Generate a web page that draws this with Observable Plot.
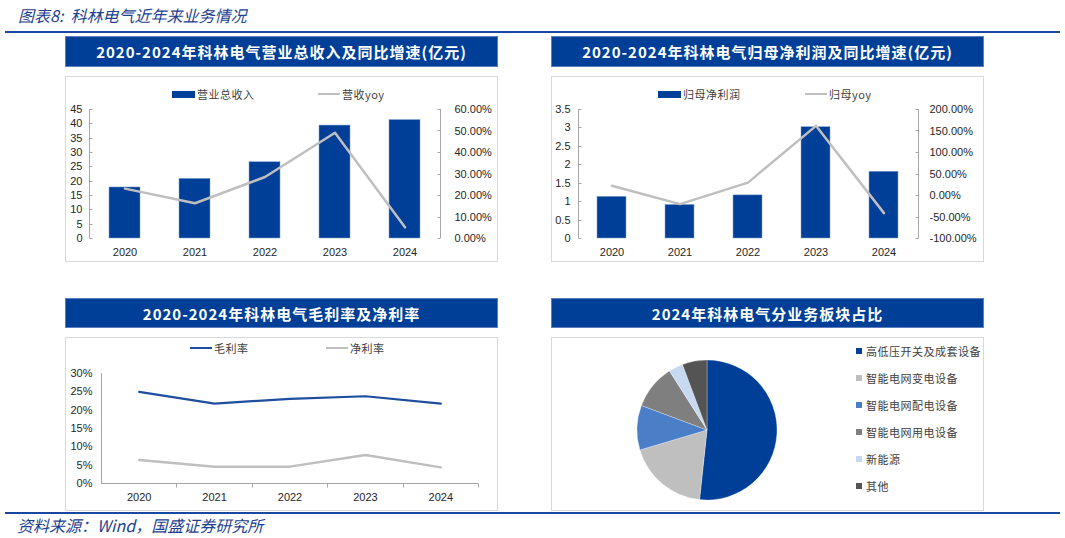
<!DOCTYPE html>
<html><head><meta charset="utf-8">
<script src="https://cdn.jsdelivr.net/npm/d3@7"></script>
<script src="https://cdn.jsdelivr.net/npm/@observablehq/plot@0.6"></script>
<style>
body{margin:0;background:#fff;}
#root{position:relative;width:1065px;height:538px;overflow:hidden;font-family:"Noto Sans CJK SC","Liberation Sans",sans-serif;}
.rule{position:absolute;background:#1a48a0;height:2px;}
.hdr{position:absolute;background:#003F98;color:#fff;font-weight:bold;font-size:15px;letter-spacing:1px;display:flex;align-items:center;justify-content:center;box-sizing:border-box;border:1px solid #5a7dbf;}
.frame{position:absolute;border:1px solid #d9d9d9;box-sizing:border-box;}
.leg{position:absolute;font-size:11px;color:#404040;white-space:nowrap;line-height:14px;letter-spacing:0.5px;}
.sw{position:absolute;}
.note{position:absolute;font-style:italic;color:#1f3f8f;font-size:16px;white-space:nowrap;}
</style></head><body><div id="root"></div>
<script>
// ---------- data ----------
const years = ["2020", "2021", "2022", "2023", "2024"];
const revenue = [17.8, 20.8, 26.6, 39.4, 41.3];          // 营业总收入 (亿元)
const revenueYoy = [23.2, 16.4, 28.6, 49.2, 5.2];          // 营收yoy (%)
const netProfit = [1.13, 0.91, 1.17, 3.02, 1.81];          // 归母净利润 (亿元)
const netProfitYoy = [22.5, -20, 30, 162, -41];            // 归母yoy (%)
const grossMargin = [25.0, 21.8, 23.1, 23.8, 21.8];        // 毛利率 (%)
const netMargin = [6.4, 4.6, 4.6, 7.8, 4.4];               // 净利率 (%)
const segments = ["高低压开关及成套设备", "智能电网变电设备", "智能电网配电设备", "智能电网用电设备", "新能源", "其他"];
const segmentShares = [51.7, 18.7, 10.3, 10.3, 3.3, 5.7];  // 2024 (%)
const segmentColors = ["#003F98", "#BFBFBF", "#4A7EC7", "#7F7F7F", "#C6D9F1", "#545454"];
const revTicks = [0, 5, 10, 15, 20, 25, 30, 35, 40, 45];
const revYoyTicks = [0, 10, 20, 30, 40, 50, 60];
const npTicks = [0, 0.5, 1, 1.5, 2, 2.5, 3, 3.5];
const npYoyTicks = [-100, -50, 0, 50, 100, 150, 200];
const marginTicks = [0, 5, 10, 15, 20, 25, 30];

const BLUE = "#003F98", GRAY = "#BFBFBF", AXIS = "#a6a6a6";
const root = document.getElementById("root");
function add(html){ root.insertAdjacentHTML("beforeend", html); }
function place(node, left, top){ node.style.position = "absolute"; node.style.left = left + "px"; node.style.top = top + "px"; root.appendChild(node); }

// ---------- static layout ----------
add(`<div class="note" style="left:18px;top:3px;">图表8:&nbsp;&nbsp;科林电气近年来业务情况</div>`);
add(`<div class="rule" style="left:5px;top:31px;width:1055px;"></div>`);
add(`<div class="rule" style="left:5px;top:512px;width:1055px;"></div>`);
add(`<div class="note" style="left:17px;top:513px;">资料来源：Wind，国盛证券研究所</div>`);
add(`<div class="hdr" style="left:65px;top:36px;width:433px;height:31px;">2020-2024年科林电气营业总收入及同比增速(亿元)</div>`);
add(`<div class="hdr" style="left:551px;top:36px;width:433px;height:31px;">2020-2024年科林电气归母净利润及同比增速(亿元)</div>`);
add(`<div class="hdr" style="left:65px;top:298px;width:433px;height:30px;">2020-2024年科林电气毛利率及净利率</div>`);
add(`<div class="hdr" style="left:551px;top:298px;width:433px;height:30px;">2024年科林电气分业务板块占比</div>`);
add(`<div class="frame" style="left:65px;top:76px;width:433px;height:186px;"></div>`);
add(`<div class="frame" style="left:551px;top:76px;width:433px;height:186px;"></div>`);
add(`<div class="frame" style="left:65px;top:337px;width:433px;height:174px;"></div>`);
add(`<div class="frame" style="left:551px;top:337px;width:433px;height:174px;"></div>`);

// legends
function barLeg(x, y, text){ add(`<div class="sw" style="left:${x}px;top:${y-3.5}px;width:23px;height:7px;background:${BLUE};"></div><div class="leg" style="left:${x+25}px;top:${y-7}px;">${text}</div>`); }
function lineLeg(x, y, color, text){ add(`<div class="sw" style="left:${x}px;top:${y-1.25}px;width:22px;height:2.5px;background:${color};"></div><div class="leg" style="left:${x+24}px;top:${y-7}px;">${text}</div>`); }
barLeg(172, 94, "营业总收入");
lineLeg(318, 94, GRAY, "营收yoy");
barLeg(658, 94, "归母净利润");
lineLeg(805, 94, GRAY, "归母yoy");
lineLeg(190, 348, "#1F4E9E", "毛利率");
lineLeg(326, 348, GRAY, "净利率");
segments.forEach((s, i) => {
  const y = 351 + i * 27;
  add(`<div class="sw" style="left:856px;top:${y-3}px;width:6px;height:6px;background:${segmentColors[i]};"></div><div class="leg" style="left:866px;top:${y-7}px;">${s}</div>`);
});

// ---------- helpers ----------
const tickStyle = {fontFamily:"'Liberation Sans', Arial, sans-serif", fontSize:"11px", color:"#262626", background:"transparent", overflow:"visible"};
function axisDecor({leftTicks = null, rightTicks = null, xBottom = null}){
  return (index, scales, values, dims) => {
    const {width, height, marginLeft:ml, marginRight:mr, marginTop:mt, marginBottom:mb} = dims;
    const g = d3.create("svg:g").attr("stroke", AXIS).attr("fill", "none");
    const y = scales.y;
    const yb = height - mb;
    if (leftTicks) {
      const x = ml + 0.5;
      g.append("line").attr("x1", x).attr("x2", x).attr("y1", mt).attr("y2", yb);
      leftTicks.forEach(v => { const yy = Math.round(y(v)) + 0.5; g.append("line").attr("x1", x).attr("x2", x + 3).attr("y1", yy).attr("y2", yy); });
    }
    if (rightTicks) {
      const x = width - mr + 0.5;
      g.append("line").attr("x1", x).attr("x2", x).attr("y1", mt).attr("y2", yb);
      rightTicks.forEach(v => { const yy = Math.round(y(v)) + 0.5; g.append("line").attr("x1", x).attr("x2", x - 3).attr("y1", yy).attr("y2", yy); });
    }
    if (xBottom) {
      const yy = Math.round(yb) + 0.5;
      g.append("line").attr("x1", ml).attr("x2", width - mr).attr("y1", yy).attr("y2", yy);
      xBottom.forEach(v => { const xx = Math.round(scales.x(v)) + 0.5; g.append("line").attr("x1", xx).attr("x2", xx).attr("y1", yy).attr("y2", yy + 4); });
    }
    return g.node();
  };
}

// ---------- chart 1: revenue ----------
const revData = years.map((y, i) => ({year: y, v: revenue[i], yoy: revenueYoy[i]}));
const k1 = 45 / 60;
const c1 = Plot.plot({
  width: 432, height: 162,
  marginLeft: 24, marginRight: 57, marginTop: 9, marginBottom: 24,
  style: tickStyle,
  x: {type: "band", domain: years, paddingInner: 0.56, paddingOuter: 0.28, label: null},
  y: {domain: [0, 45], label: null},
  marks: [
    Plot.barY(revData, {x: "year", y: "v", fill: BLUE, stroke: "#7f9fd0", strokeWidth: 0.5}),
    Plot.lineY(revData, {x: "year", y: d => d.yoy * k1, stroke: GRAY, strokeWidth: 2.5}),
    Plot.axisX({tickSize: 0, tickPadding: 10, label: null}),
    Plot.axisY(revTicks, {anchor: "left", tickSize: 0, tickPadding: 7, label: null}),
    Plot.axisY(revYoyTicks.map(v => v * k1), {anchor: "right", tickSize: 0, tickPadding: 14, tickFormat: d => (d / k1).toFixed(2) + "%", label: null}),
    axisDecor({leftTicks: revTicks, rightTicks: revYoyTicks.map(v => v * k1)})
  ]
});
place(c1, 65, 100);

// ---------- chart 2: net profit ----------
const npData = years.map((y, i) => ({year: y, v: netProfit[i], yoy: netProfitYoy[i]}));
const toL = r => (r + 100) / 300 * 3.5;
const fromL = v => v / 3.5 * 300 - 100;
const c2 = Plot.plot({
  width: 432, height: 162,
  marginLeft: 27, marginRight: 65, marginTop: 9, marginBottom: 24,
  style: tickStyle,
  x: {type: "band", domain: years, paddingInner: 0.57, paddingOuter: 0.285, label: null},
  y: {domain: [0, 3.5], label: null},
  marks: [
    Plot.barY(npData, {x: "year", y: "v", fill: BLUE, stroke: "#7f9fd0", strokeWidth: 0.5}),
    Plot.lineY(npData, {x: "year", y: d => toL(d.yoy), stroke: GRAY, strokeWidth: 2.5}),
    Plot.axisX({tickSize: 0, tickPadding: 10, label: null}),
    Plot.axisY(npTicks, {anchor: "left", tickSize: 0, tickPadding: 8, tickFormat: d => String(d), label: null}),
    Plot.axisY(npYoyTicks.map(toL), {anchor: "right", tickSize: 0, tickPadding: 11, tickFormat: d => Math.round(fromL(d)).toFixed(2) + "%", label: null}),
    axisDecor({leftTicks: npTicks, rightTicks: npYoyTicks.map(toL)})
  ]
});
place(c2, 551, 100);

// ---------- chart 3: margins ----------
const mData = years.map((y, i) => ({i: i + 0.5, year: y, g: grossMargin[i], n: netMargin[i]}));
const c3 = Plot.plot({
  width: 432, height: 150,
  marginLeft: 36, marginRight: 19, marginTop: 13, marginBottom: 27,
  style: tickStyle,
  x: {domain: [0, years.length], label: null},
  y: {domain: [0, 30], label: null},
  marks: [
    Plot.lineY(mData, {x: "i", y: "n", stroke: GRAY, strokeWidth: 2.5}),
    Plot.lineY(mData, {x: "i", y: "g", stroke: "#1F4E9E", strokeWidth: 2.2}),
    Plot.axisX(mData.map(d => d.i), {tickSize: 0, tickPadding: 10, tickFormat: d => years[Math.floor(d)], label: null}),
    Plot.axisY(marginTicks, {anchor: "left", tickSize: 0, tickPadding: 9, tickFormat: d => d + "%", label: null}),
    axisDecor({leftTicks: [], xBottom: d3.range(1, years.length + 1)})
  ]
});
place(c3, 65, 360);

// ---------- chart 4: pie ----------
const pieData = segments.map((s, i) => ({name: s, share: segmentShares[i]}));
const c4 = Plot.plot({
  width: 150, height: 150, margin: 5,
  style: {background: "transparent", overflow: "visible"},
  color: {domain: segments, range: segmentColors},
  marks: [
    (index, scales, values, dims) => {
      const {width, height, marginLeft:ml, marginRight:mr, marginTop:mt, marginBottom:mb} = dims;
      const cx = ml + (width - ml - mr) / 2, cy = mt + (height - mt - mb) / 2;
      const r = Math.min(width - ml - mr, height - mt - mb) / 2;
      const arcs = d3.pie().sort(null).value(d => d.share)(pieData);
      const arc = d3.arc().innerRadius(0).outerRadius(r);
      const color = scales.color || (n => segmentColors[segments.indexOf(n)]);
      const g = d3.create("svg:g").attr("transform", `translate(${cx},${cy})`);
      g.selectAll("path").data(arcs).join("path")
        .attr("d", arc).attr("fill", d => color(d.data.name))
        .attr("stroke", "#fff").attr("stroke-width", 0.3);
      return g.node();
    }
  ]
});
place(c4, 632, 355);
</script></body></html>
